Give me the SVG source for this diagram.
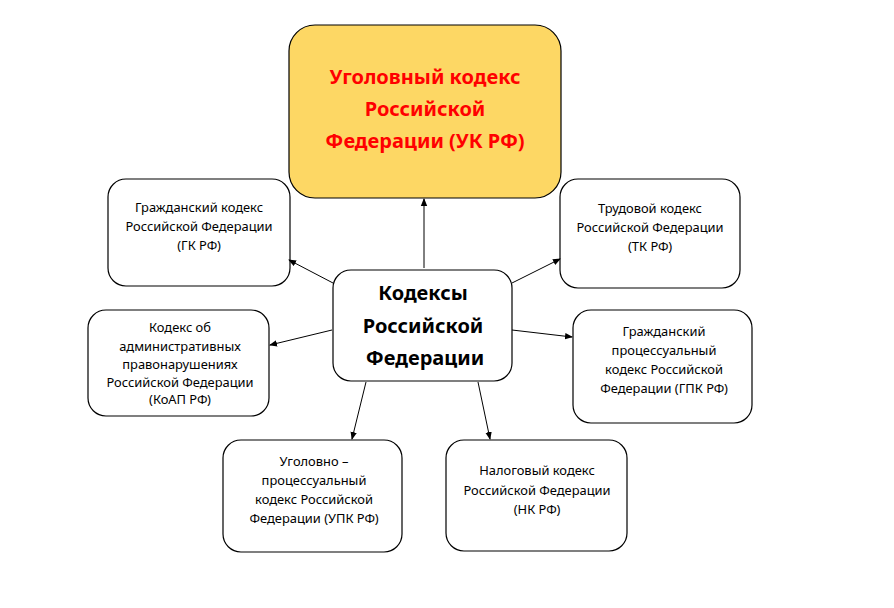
<svg xmlns="http://www.w3.org/2000/svg" width="894" height="608" viewBox="0 0 894 608">
<style>
.box{fill:#fff;stroke:#000;stroke-width:1.2}
.t{font-family:"Noto Sans","Open Sans","Liberation Sans",sans-serif;font-size:12.9px;fill:#000;text-anchor:middle}
.b{font-family:"Noto Sans","Open Sans","Liberation Sans",sans-serif;font-size:20px;font-weight:bold;text-anchor:middle;fill:#000}
.r{fill:#FF0000}
.c line{stroke:#000;stroke-width:1;marker-end:url(#ah)}
</style>
<defs>
<marker id="ah" markerWidth="8" markerHeight="8" refX="7" refY="4" orient="auto" markerUnits="userSpaceOnUse">
<path d="M0,0.8 L8,4 L0,7.2 Z" fill="#000"/>
</marker>
</defs>
<rect width="894" height="608" fill="#fff"/>
<g id="uk">
<rect x="289" y="25" width="272" height="173" rx="26" fill="#FDD764" stroke="#000" stroke-width="1.2"/>
<text class="b r" x="425" y="84">Уголовный кодекс</text>
<text class="b r" x="425" y="116">Российской</text>
<text class="b r" x="425" y="148">Федерации (УК РФ)</text>
</g>
<g id="gk">
<rect class="box" x="108" y="179" width="182" height="107" rx="18"/>
<text class="t" x="199" y="212">Гражданский кодекс</text>
<text class="t" x="199" y="231">Российской Федерации</text>
<text class="t" x="199" y="250">(ГК РФ)</text>
</g>
<g id="tk">
<rect class="box" x="560" y="179" width="180" height="109" rx="18"/>
<text class="t" x="650" y="213">Трудовой кодекс</text>
<text class="t" x="650" y="232">Российской Федерации</text>
<text class="t" x="650" y="251">(ТК РФ)</text>
</g>
<g id="center">
<rect class="box" x="333" y="270" width="179" height="111" rx="18"/>
<text class="b" x="423" y="300">Кодексы</text>
<text class="b" x="423" y="333">Российской</text>
<text class="b" x="425" y="365">Федерации</text>
</g>
<g id="koap">
<rect class="box" x="88" y="310" width="181" height="106" rx="18"/>
<text class="t" x="180" y="332">Кодекс об</text>
<text class="t" x="180" y="351">административных</text>
<text class="t" x="180" y="369">правонарушениях</text>
<text class="t" x="180" y="387">Российской Федерации</text>
<text class="t" x="180" y="404">(КоАП РФ)</text>
</g>
<g id="gpk">
<rect class="box" x="573" y="310" width="179" height="113" rx="18"/>
<text class="t" x="664" y="336">Гражданский</text>
<text class="t" x="664" y="355">процессуальный</text>
<text class="t" x="664" y="374">кодекс Российской</text>
<text class="t" x="664" y="393">Федерации (ГПК РФ)</text>
</g>
<g id="upk">
<rect class="box" x="223" y="440" width="179" height="112" rx="18"/>
<text class="t" x="314" y="466">Уголовно –</text>
<text class="t" x="314" y="485">процессуальный</text>
<text class="t" x="314" y="504">кодекс Российской</text>
<text class="t" x="314" y="523">Федерации (УПК РФ)</text>
</g>
<g id="nk">
<rect class="box" x="446" y="440" width="181" height="111" rx="18"/>
<text class="t" x="537" y="475">Налоговый кодекс</text>
<text class="t" x="537" y="495">Российской Федерации</text>
<text class="t" x="537" y="514">(НК РФ)</text>
</g>
<g id="connectors" class="c">
<line x1="424" y1="268" x2="424" y2="199"/>
<line x1="333" y1="283" x2="289" y2="260"/>
<line x1="512" y1="283" x2="560" y2="259"/>
<line x1="332" y1="330" x2="270" y2="345"/>
<line x1="512" y1="330" x2="572" y2="337"/>
<line x1="366" y1="382" x2="352" y2="439"/>
<line x1="478" y1="382" x2="490" y2="439"/>
</g>
</svg>
